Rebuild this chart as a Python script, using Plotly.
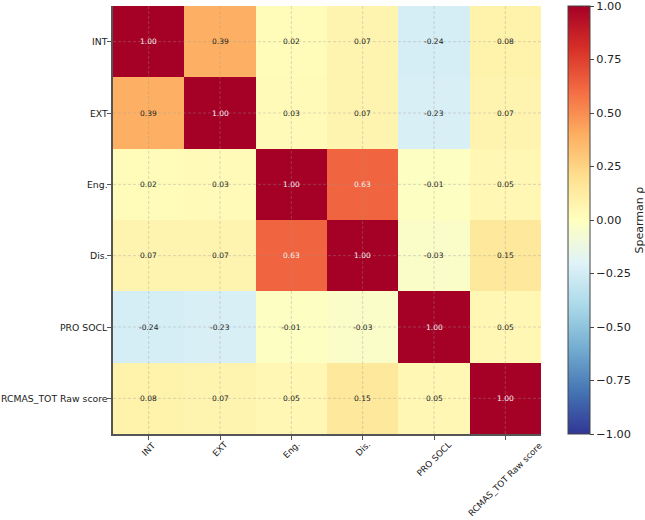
import plotly.graph_objects as go

labels = ["INT", "EXT", "Eng.", "Dis.", "PRO SOCL", "RCMAS_TOT Raw score"]
row_int = [1.00, 0.39, 0.02, 0.07, -0.24, 0.08]
row_ext = [0.39, 1.00, 0.03, 0.07, -0.23, 0.07]
row_eng = [0.02, 0.03, 1.00, 0.63, -0.01, 0.05]
row_dis = [0.07, 0.07, 0.63, 1.00, -0.03, 0.15]
row_pro = [-0.24, -0.23, -0.01, -0.03, 1.00, 0.05]
row_rcm = [0.08, 0.07, 0.05, 0.15, 0.05, 1.00]
z = [row_int, row_ext, row_eng, row_dis, row_pro, row_rcm]
cbar_ticks = [1.0, 0.75, 0.5, 0.25, 0.0, -0.25, -0.5, -0.75, -1.0]
cbar_title = "Spearman ρ"

FONT = "DejaVu Sans"

fig = go.Figure()
fig.add_trace(go.Heatmap(
    z=z, x=labels, y=labels,
    colorscale="RdYlBu", reversescale=True, zmin=-1, zmax=1,
    xgap=0, ygap=0,
    colorbar=dict(
        x=1.063, xanchor="left", xref="paper", xpad=0, ypad=0,
        y=0.5, yanchor="middle",
        len=1.0, lenmode="fraction", thickness=22,
        outlinewidth=1, outlinecolor="#444",
        tickvals=cbar_ticks, tickformat=".2f",
        ticks="outside", ticklen=4, tickcolor="#444",
        ticklabeloverflow="allow",
        tickfont=dict(family=FONT, size=11.3, color="#222"),
    ),
    hoverinfo="skip",
))

annotations = []
for i, rlab in enumerate(labels):
    for j, clab in enumerate(labels):
        v = z[i][j]
        annotations.append(dict(
            x=clab, y=rlab, xref="x", yref="y", text=f"{v:.2f}",
            showarrow=False,
            font=dict(family=FONT, size=7.5,
                      color="#f2f2f2" if v > 0.5 else "#222"),
        ))
# axis tick labels (matplotlib-style: rotated x labels centred under ticks)
for lab in labels:
    annotations.append(dict(
        x=lab, y=0, xref="x", yref="paper", text=lab, textangle=-45,
        showarrow=False, xanchor="center", yanchor="top", yshift=-3,
        font=dict(family=FONT, size=8.7, color="#222"),
    ))
    annotations.append(dict(
        x=0, y=lab, xref="paper", yref="y", text=lab,
        showarrow=False, xanchor="right", yanchor="middle", xshift=-3,
        font=dict(family=FONT, size=9.3, color="#222"),
    ))
annotations.append(dict(
    x=1.228, y=0.5, xref="paper", yref="paper", text=cbar_title,
    textangle=-90, showarrow=False, xanchor="center", yanchor="middle",
    font=dict(family=FONT, size=11, color="#222"),
))

shapes = []
n = len(labels)
gl = dict(color="rgba(150,150,150,0.45)", width=0.8, dash="3px,2px")
for k in range(n):
    shapes.append(dict(type="line", xref="x", yref="y", layer="above",
                       x0=k, x1=k, y0=-0.5, y1=n - 0.5, line=gl))
    shapes.append(dict(type="line", xref="x", yref="y", layer="above",
                       x0=-0.5, x1=n - 0.5, y0=k, y1=k, line=gl))

fig.update_layout(
    width=645, height=520,
    margin=dict(l=113, r=104, t=6, b=86, autoexpand=False),
    paper_bgcolor="white", plot_bgcolor="white",
    font=dict(family=FONT, color="#222"),
    annotations=annotations,
    shapes=shapes,
    showlegend=False,
)
fig.update_xaxes(
    showticklabels=False,
    showgrid=False, zeroline=False, automargin=False,
    showline=True, linecolor="#555", linewidth=1.5,
    ticks="outside", ticklen=4, tickcolor="#555",
    range=[-0.5, n - 0.5],
)
fig.update_yaxes(
    range=[n - 0.5, -0.5], showticklabels=False,
    showgrid=False, zeroline=False, automargin=False,
    showline=True, linecolor="#555", linewidth=1.5,
    ticks="outside", ticklen=4, tickcolor="#555",
)

fig.write_html("out.html")
